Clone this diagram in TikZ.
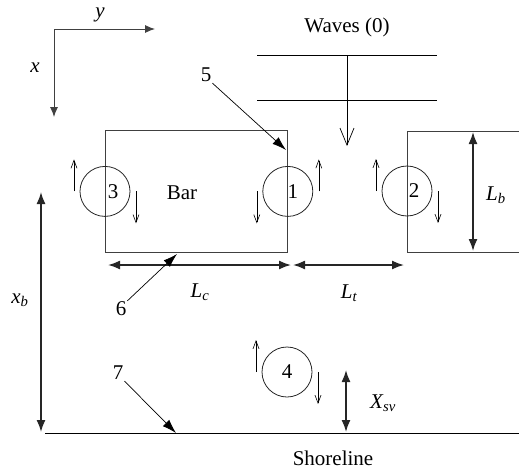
\documentclass[tikz,border=0pt]{standalone}
\usepackage{amsmath}
\usepackage{fontspec}
\setmainfont{Liberation Serif}
\usetikzlibrary{arrows.meta}

\begin{document}
\begin{tikzpicture}[x=1pt,y=-1pt,
        every node/.style={font=\fontsize{21}{24}\selectfont,inner sep=1pt},
        box/.style={draw=black!75,line width=0.8pt,minimum width=182pt,minimum height=122pt,anchor=north west},
        eddy/.style={draw=black!85,circle,line width=0.8pt,minimum size=50pt,inner sep=0pt},
        flow/.style={-{Straight Barb[length=8pt,width=6pt]},line width=0.6pt},
        dim/.style={{Latex[length=12pt,width=9pt]}-{Latex[length=12pt,width=9pt]},line width=1.6pt,black!85},
        axis/.style={-{Latex[length=10pt,width=8pt]},line width=0.9pt,black!75},
        pointer/.style={-{Latex[length=14pt,width=9pt]},line width=0.7pt},
      ]
      \useasboundingbox (0,0) rectangle (519,471);
      % axes
      \coordinate (O) at (54,29);
      \coordinate (ya) at (155,29);
      \coordinate (xa) at (54,117);
      \draw[axis] (O) -- (ya);
      \draw[axis] (O) -- (xa);
      \node (ylab) at (100,15) {\textit{y}};
      \node (xlab) at (35,68) {\textit{x}};
      % incoming waves
      \node (waves) at (347,27) {Waves (0)};
      \coordinate (w1a) at (257,55); \coordinate (w1b) at (437,55);
      \coordinate (w2a) at (257,100); \coordinate (w2b) at (437,100);
      \draw[line width=0.8pt] (w1a) -- (w1b);
      \draw[line width=0.8pt] (w2a) -- (w2b);
      \coordinate (wtop) at (347,55);
      \coordinate (wtip) at (347,146);
      \draw[-{Straight Barb[length=17pt,width=14pt]},line width=0.7pt] (wtop) -- (wtip);
      % bars
      \node[box] (bar) at (105,130) {};
      \node (barlab) at (182,193) {Bar};
      \coordinate (rbT) at (519,131);
      \coordinate (rbL) at (407,252);
      \coordinate (rbB) at (519,252);
      \draw[black!75,line width=0.8pt] (rbT) -| (rbL) -- (rbB);
      % shoreline
      \coordinate (s0) at (45,433);
      \coordinate (s1) at (519,433);
      \draw[line width=0.9pt] (s0) -- (s1);
      \node (shore) at (333,458) {Shoreline};
      % circulation cells
      \node[eddy] (e3) at (bar.west) {};
      \node[eddy] (e1) at (bar.east) {};
      \node[eddy] (e2) at (407,191) {};
      \node[eddy] (e4) at (287,372) {4};
      \node at ([xshift=8pt]e3.center) {3};
      \node at ([xshift=5pt]e1.center) {1};
      \node at ([xshift=7pt]e2.center) {2};
      \foreach \e/\d in {e3/-1,e2/-1,e4/-1,e1/1} {
        \draw[flow] ([xshift=-31pt]\e.center) -- ++(0,32*\d);
        \draw[flow] ([xshift=31pt]\e.center) -- ++(0,-32*\d);
      }
      % dimensions
      \coordinate (lbT) at (473,132); \coordinate (lbB) at (473,251);
      \draw[dim] (lbT) -- (lbB);
      \node (lb) at (496,195) {$\textit{L}_{\textit{b}}$};
      \coordinate (lcL) at (108,265); \coordinate (lcR) at (291,265);
      \draw[dim] (lcL) -- (lcR);
      \node (lc) at (200,292) {$\textit{L}_{\textit{c}}$};
      \coordinate (ltL) at (293,265); \coordinate (ltR) at (404,265);
      \draw[dim] (ltL) -- (ltR);
      \node (lt) at (349,293) {$\textit{L}_{\textit{t}}$};
      \coordinate (xbT) at (41,192); \coordinate (xbB) at (41,432);
      \draw[dim] (xbT) -- (xbB);
      \node (xb) at (20,300) {$\textit{x}_{\textit{b}}$};
      \coordinate (xsT) at (346,370); \coordinate (xsB) at (346,432);
      \draw[dim] (xsT) -- (xsB);
      \node (xsv) at (383,403) {$\textit{X}_{\textit{sv}}$};
      % pointers
      \node (n5) at (206,75) {5};
      \node (n6) at (121,309) {6};
      \node (n7) at (118,373) {7};
      \coordinate (p5) at (286,150);
      \coordinate (p6) at (177,254);
      \coordinate (p7) at (176,433);
      \draw[pointer] (n5.south east) -- (p5);
      \draw[pointer] (n6.north east) -- (p6);
      \draw[pointer] (n7.south east) -- (p7);
    \end{tikzpicture}
\end{document}
